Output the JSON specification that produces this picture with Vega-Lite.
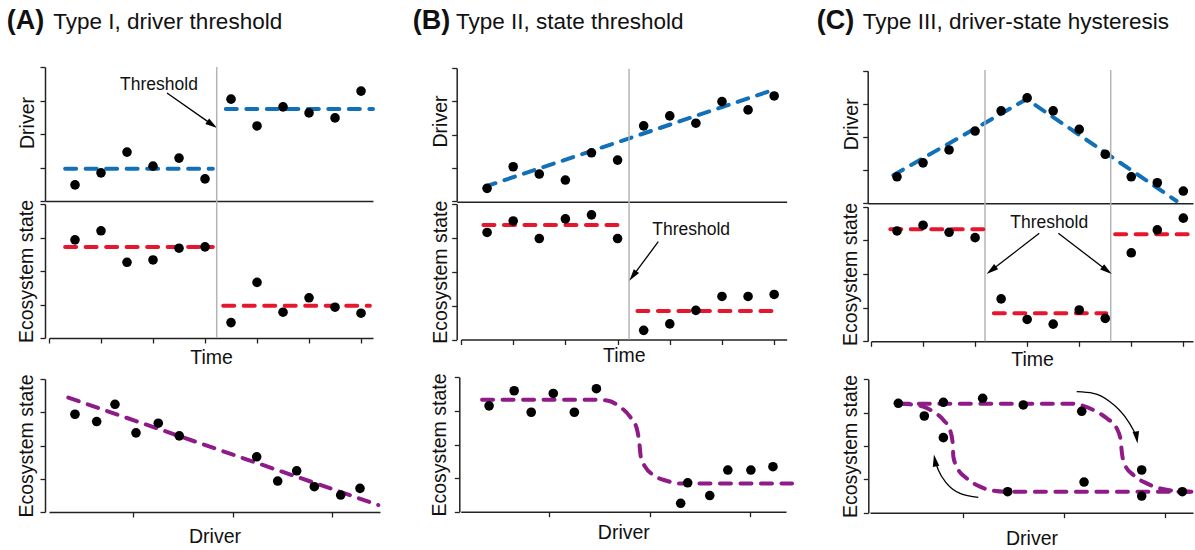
{
  "$schema": "https://vega.github.io/schema/vega-lite/v6.json",
  "width": 1195,
  "height": 550,
  "padding": 0,
  "autosize": {"type": "fit", "contains": "padding"},
  "config": {
    "view": {"stroke": null},
    "font": "Liberation Sans",
    "axis": {"grid": false, "labels": false, "domainColor": "#222", "domainWidth": 1.5, "tickColor": "#222", "tickWidth": 1.3, "tickSize": 5, "titleFont": "Liberation Sans", "titleFontSize": 19.5, "titleFontWeight": "normal", "titleColor": "#111"}
  },
  "resolve": {"scale": {"x": "independent", "y": "independent"}, "axis": {"x": "independent", "y": "independent"}},
  "layer": [
    {
      "encoding": {
        "x": {"field": "x", "type": "quantitative", "scale": {"domain": [-0.077, 6.23], "range": [45, 373], "nice": false, "zero": false}, "axis": {"orient": "bottom", "offset": -349, "ticks": false, "labels": false, "title": null}},
        "y": {"field": "y", "type": "quantitative", "scale": {"domain": [0, 4], "range": [201, 67], "nice": false, "zero": false}, "axis": {"orient": "left", "offset": -45, "values": [0, 1, 2, 3, 4], "title": "Driver", "titleX": -7.6, "titleY": 122.5}}
      },
      "layer": [
        {"data": {"values": [{"seg": 1, "x": 0.31, "y": 0.96}, {"seg": 1, "x": 3.15, "y": 0.96}, {"seg": 2, "x": 3.4, "y": 2.75}, {"seg": 2, "x": 6.23, "y": 2.75}]},
         "mark": {"type": "line", "color": "#1170b8", "strokeWidth": 4, "strokeDash": [11, 9.5], "strokeCap": "round"}, "encoding": {"detail": {"field": "seg", "type": "nominal"}}},
        {"data": {"values": [{"x": 0.5, "y": 0.48}, {"x": 1, "y": 0.84}, {"x": 1.5, "y": 1.46}, {"x": 2, "y": 1.04}, {"x": 2.5, "y": 1.28}, {"x": 3, "y": 0.66}, {"x": 3.5, "y": 3.04}, {"x": 4, "y": 2.24}, {"x": 4.5, "y": 2.81}, {"x": 5, "y": 2.63}, {"x": 5.5, "y": 2.48}, {"x": 6, "y": 3.28}]},
         "mark": {"type": "circle", "color": "#000", "size": 92, "opacity": 1}},
        {"data": {"values": [{"x": 2.269, "y": 3.224, "x2": 3.137, "y2": 2.28}]}, "mark": {"type": "rule", "color": "#000", "strokeWidth": 1.3}, "encoding": {"x2": {"field": "x2"}, "y2": {"field": "y2"}}},
        {"data": {"values": [{"x": 3.137, "y": 2.28}]}, "mark": {"type": "point", "shape": "M0,-1L0.55,1L-0.55,1Z", "filled": true, "color": "#000", "opacity": 1, "size": 144, "angle": 125, "strokeWidth": 0}},
        {"data": {"values": [{"x": 2.115, "y": 3.313, "label": "Threshold"}]}, "mark": {"type": "text", "fontSize": 17.5, "align": "center", "baseline": "alphabetic", "color": "#111"}, "encoding": {"text": {"field": "label"}}},
        {"data": {"values": [{"x": -0.813, "y": 5.149, "label": "(A)"}]}, "mark": {"type": "text", "fontSize": 27, "fontWeight": "bold", "align": "left", "baseline": "alphabetic", "color": "#111"}, "encoding": {"text": {"field": "label"}}},
        {"data": {"values": [{"x": 0.083, "y": 5.149, "label": "Type I, driver threshold"}]}, "mark": {"type": "text", "fontSize": 22.5, "align": "left", "baseline": "alphabetic", "color": "#111"}, "encoding": {"text": {"field": "label"}}}
      ]
    },
    {
      "encoding": {
        "x": {"field": "x", "type": "quantitative", "scale": {"domain": [0, 6.23], "range": [49, 373], "nice": false, "zero": false}, "axis": {"orient": "bottom", "offset": -212, "values": [0, 1, 2, 3, 4, 5, 6], "title": "Time", "titlePadding": 5}},
        "y": {"field": "y", "type": "quantitative", "scale": {"domain": [0, 4], "range": [338, 204], "nice": false, "zero": false}, "axis": {"orient": "left", "offset": -45, "values": [0, 1, 2, 3, 4], "title": "Ecosystem state", "titlePadding": 2.5}}
      },
      "layer": [
        {"data": {"values": [{"x": 3.225, "y": 0, "y2": 8.09}]}, "mark": {"type": "rule", "color": "#b5b5b5", "strokeWidth": 1.5}, "encoding": {"y2": {"field": "y2"}}},
        {"data": {"values": [{"seg": 1, "x": 0.31, "y": 2.72}, {"seg": 1, "x": 3.15, "y": 2.72}, {"seg": 2, "x": 3.35, "y": 0.96}, {"seg": 2, "x": 6.17, "y": 0.96}]},
         "mark": {"type": "line", "color": "#e5162d", "strokeWidth": 4, "strokeDash": [11, 9.5], "strokeCap": "round"}, "encoding": {"detail": {"field": "seg", "type": "nominal"}}},
        {"data": {"values": [{"x": 0.5, "y": 2.93}, {"x": 1, "y": 3.2}, {"x": 1.5, "y": 2.26}, {"x": 2, "y": 2.33}, {"x": 2.5, "y": 2.68}, {"x": 3, "y": 2.72}, {"x": 3.5, "y": 0.46}, {"x": 4, "y": 1.66}, {"x": 4.5, "y": 0.77}, {"x": 5, "y": 1.2}, {"x": 5.5, "y": 0.92}, {"x": 6, "y": 0.74}]},
         "mark": {"type": "circle", "color": "#000", "size": 92, "opacity": 1}}
      ]
    },
    {
      "encoding": {
        "x": {"field": "x", "type": "quantitative", "scale": {"domain": [0.156, 3.482], "range": [49, 380], "nice": false, "zero": false}, "axis": {"orient": "bottom", "offset": -38, "values": [1, 2, 3], "title": "Driver", "titlePadding": 10}},
        "y": {"field": "y", "type": "quantitative", "scale": {"domain": [0, 4], "range": [512, 379], "nice": false, "zero": false}, "axis": {"orient": "left", "offset": -45, "values": [0, 1, 2, 3, 4], "title": "Ecosystem state", "titlePadding": 2.5}}
      },
      "layer": [
        {"data": {"values": [{"x": 0.35, "y": 3.44}, {"x": 3.465, "y": 0.21}]},
         "mark": {"type": "line", "color": "#8e1b87", "strokeWidth": 4, "strokeDash": [11, 9.5], "strokeCap": "round"}},
        {"data": {"values": [{"x": 0.417, "y": 2.94}, {"x": 0.635, "y": 2.72}, {"x": 0.819, "y": 3.24}, {"x": 1.03, "y": 2.38}, {"x": 1.254, "y": 2.67}, {"x": 1.465, "y": 2.29}, {"x": 2.243, "y": 1.66}, {"x": 2.454, "y": 0.93}, {"x": 2.645, "y": 1.24}, {"x": 2.822, "y": 0.76}, {"x": 3.087, "y": 0.51}, {"x": 3.281, "y": 0.71}]},
         "mark": {"type": "circle", "color": "#000", "size": 92, "opacity": 1}}
      ]
    },
    {
      "encoding": {
        "x": {"field": "x", "type": "quantitative", "scale": {"domain": [-0.082, 6.24], "range": [456.7, 786.7], "nice": false, "zero": false}, "axis": {"orient": "bottom", "offset": -348.3, "ticks": false, "labels": false, "title": null}},
        "y": {"field": "y", "type": "quantitative", "scale": {"domain": [0, 4], "range": [201, 68], "nice": false, "zero": false}, "axis": {"orient": "left", "offset": -456.7, "values": [0, 1, 2, 3, 4], "title": "Driver", "titleX": -5.9, "titleY": 121}}
      },
      "layer": [
        {"data": {"values": [{"x": 0.46, "y": 0.43}, {"x": 6.02, "y": 3.36}]},
         "mark": {"type": "line", "color": "#1170b8", "strokeWidth": 4, "strokeDash": [11, 9.5], "strokeCap": "round"}},
        {"data": {"values": [{"x": 0.5, "y": 0.38}, {"x": 1, "y": 1.03}, {"x": 1.5, "y": 0.81}, {"x": 2, "y": 0.63}, {"x": 2.5, "y": 1.45}, {"x": 3, "y": 1.23}, {"x": 3.5, "y": 2.26}, {"x": 4, "y": 2.56}, {"x": 4.5, "y": 2.34}, {"x": 5, "y": 2.99}, {"x": 5.5, "y": 2.74}, {"x": 6, "y": 3.16}]},
         "mark": {"type": "circle", "color": "#000", "size": 92, "opacity": 1}},
        {"data": {"values": [{"x": -0.925, "y": 5.18, "label": "(B)"}]}, "mark": {"type": "text", "fontSize": 27, "fontWeight": "bold", "align": "left", "baseline": "alphabetic", "color": "#111"}, "encoding": {"text": {"field": "label"}}},
        {"data": {"values": [{"x": -0.096, "y": 5.18, "label": "Type II, state threshold"}]}, "mark": {"type": "text", "fontSize": 22.5, "align": "left", "baseline": "alphabetic", "color": "#111"}, "encoding": {"text": {"field": "label"}}}
      ]
    },
    {
      "encoding": {
        "x": {"field": "x", "type": "quantitative", "scale": {"domain": [0, 6.24], "range": [461, 786.7], "nice": false, "zero": false}, "axis": {"orient": "bottom", "offset": -210.5, "values": [0, 1, 2, 3, 4, 5, 6], "title": "Time", "titlePadding": 1}},
        "y": {"field": "y", "type": "quantitative", "scale": {"domain": [0, 4], "range": [339.5, 204], "nice": false, "zero": false}, "axis": {"orient": "left", "offset": -456.7, "values": [0, 1, 2, 3, 4], "title": "Ecosystem state", "titlePadding": 1}}
      },
      "layer": [
        {"data": {"values": [{"x": 3.22, "y": 0, "y2": 7.99}]}, "mark": {"type": "rule", "color": "#b5b5b5", "strokeWidth": 1.5}, "encoding": {"y2": {"field": "y2"}}},
        {"data": {"values": [{"seg": 1, "x": 0.43, "y": 3.38}, {"seg": 1, "x": 3.01, "y": 3.38}, {"seg": 2, "x": 3.38, "y": 0.84}, {"seg": 2, "x": 5.98, "y": 0.84}]},
         "mark": {"type": "line", "color": "#e5162d", "strokeWidth": 4, "strokeDash": [11, 9.5], "strokeCap": "round"}, "encoding": {"detail": {"field": "seg", "type": "nominal"}}},
        {"data": {"values": [{"x": 0.5, "y": 3.16}, {"x": 1, "y": 3.5}, {"x": 1.5, "y": 2.98}, {"x": 2, "y": 3.56}, {"x": 2.5, "y": 3.68}, {"x": 3, "y": 2.98}, {"x": 3.5, "y": 0.27}, {"x": 4, "y": 0.46}, {"x": 4.5, "y": 0.86}, {"x": 5, "y": 1.27}, {"x": 5.5, "y": 1.27}, {"x": 6, "y": 1.33}]},
         "mark": {"type": "circle", "color": "#000", "size": 92, "opacity": 1}},
        {"data": {"values": [{"x": 3.78, "y": 2.887, "x2": 3.293, "y2": 1.877}]}, "mark": {"type": "rule", "color": "#000", "strokeWidth": 1.3}, "encoding": {"x2": {"field": "x2"}, "y2": {"field": "y2"}}},
        {"data": {"values": [{"x": 3.293, "y": 1.877}]}, "mark": {"type": "point", "shape": "M0,-1L0.55,1L-0.55,1Z", "filled": true, "color": "#000", "opacity": 1, "size": 144, "angle": 216.7, "strokeWidth": 0}},
        {"data": {"values": [{"x": 4.41, "y": 3.085, "label": "Threshold"}]}, "mark": {"type": "text", "fontSize": 17.5, "align": "center", "baseline": "alphabetic", "color": "#111"}, "encoding": {"text": {"field": "label"}}}
      ]
    },
    {
      "encoding": {
        "x": {"field": "x", "type": "quantitative", "scale": {"domain": [0.117, 3.36], "range": [460.7, 786], "nice": false, "zero": false}, "axis": {"orient": "bottom", "offset": -38.3, "values": [1, 2, 3], "title": "Driver", "titlePadding": 6}},
        "y": {"field": "y", "type": "quantitative", "scale": {"domain": [0, 4], "range": [511.7, 377.3], "nice": false, "zero": false}, "axis": {"orient": "left", "offset": -459.3, "values": [0, 1, 2, 3, 4], "title": "Ecosystem state", "titlePadding": 4}}
      },
      "layer": [
        {"data": {"values": [{"x": 0.33, "y": 3.33}, {"x": 1.472, "y": 3.33}, {"x": 1.588, "y": 3.3}, {"x": 1.705, "y": 3.12}, {"x": 1.805, "y": 2.83}, {"x": 1.872, "y": 2.48}, {"x": 1.898, "y": 2.04}, {"x": 1.912, "y": 1.64}, {"x": 1.955, "y": 1.34}, {"x": 2.037, "y": 1.09}, {"x": 2.171, "y": 0.92}, {"x": 2.286, "y": 0.84}, {"x": 3.42, "y": 0.84}]},
         "mark": {"type": "line", "color": "#8e1b87", "strokeWidth": 4, "strokeDash": [11, 9.5], "strokeCap": "round", "interpolate": "monotone"}},
        {"data": {"values": [{"x": 0.4, "y": 3.15}, {"x": 0.65, "y": 3.6}, {"x": 0.82, "y": 2.96}, {"x": 1.04, "y": 3.52}, {"x": 1.25, "y": 2.96}, {"x": 1.47, "y": 3.66}, {"x": 2.31, "y": 0.25}, {"x": 2.38, "y": 0.86}, {"x": 2.6, "y": 0.48}, {"x": 2.78, "y": 1.24}, {"x": 3.01, "y": 1.24}, {"x": 3.23, "y": 1.34}]},
         "mark": {"type": "circle", "color": "#000", "size": 92, "opacity": 1}}
      ]
    },
    {
      "encoding": {
        "x": {"field": "x", "type": "quantitative", "scale": {"domain": [-0.063, 6.186], "range": [867.7, 1193], "nice": false, "zero": false}, "axis": {"orient": "bottom", "offset": -346.7, "ticks": false, "labels": false, "title": null}},
        "y": {"field": "y", "type": "quantitative", "scale": {"domain": [0, 4], "range": [203.3, 70.7], "nice": false, "zero": false}, "axis": {"orient": "left", "offset": -867.7, "values": [0, 1, 2, 3, 4], "title": "Driver", "titleX": -6.3, "titleY": 123.8}}
      },
      "layer": [
        {"data": {"values": [{"x": 0.43, "y": 0.85}, {"x": 2.99, "y": 3.14}, {"x": 5.87, "y": 0.07}]},
         "mark": {"type": "line", "color": "#1170b8", "strokeWidth": 4, "strokeDash": [11, 9.5], "strokeCap": "round"}},
        {"data": {"values": [{"x": 0.5, "y": 0.8}, {"x": 1, "y": 1.22}, {"x": 1.5, "y": 1.61}, {"x": 2, "y": 2.18}, {"x": 2.5, "y": 2.79}, {"x": 3, "y": 3.18}, {"x": 3.5, "y": 2.79}, {"x": 4, "y": 2.23}, {"x": 4.5, "y": 1.48}, {"x": 5, "y": 0.8}, {"x": 5.5, "y": 0.62}, {"x": 6, "y": 0.37}]},
         "mark": {"type": "circle", "color": "#000", "size": 92, "opacity": 1}},
        {"data": {"values": [{"x": -1.043, "y": 5.273, "label": "(C)"}]}, "mark": {"type": "text", "fontSize": 27, "fontWeight": "bold", "align": "left", "baseline": "alphabetic", "color": "#111"}, "encoding": {"text": {"field": "label"}}},
        {"data": {"values": [{"x": -0.159, "y": 5.273, "label": "Type III, driver-state hysteresis"}]}, "mark": {"type": "text", "fontSize": 22.5, "align": "left", "baseline": "alphabetic", "color": "#111"}, "encoding": {"text": {"field": "label"}}}
      ]
    },
    {
      "encoding": {
        "x": {"field": "x", "type": "quantitative", "scale": {"domain": [0, 6.186], "range": [871, 1193], "nice": false, "zero": false}, "axis": {"orient": "bottom", "offset": -208.7, "values": [0, 1, 2, 3, 4, 5, 6], "title": "Time", "titlePadding": 4}},
        "y": {"field": "y", "type": "quantitative", "scale": {"domain": [0, 4], "range": [341.3, 206.7], "nice": false, "zero": false}, "axis": {"orient": "left", "offset": -867.7, "values": [0, 1, 2, 3, 4], "title": "Ecosystem state", "titlePadding": 2}}
      },
      "layer": [
        {"data": {"values": [{"x": 2.19, "y": 0, "y2": 8.06}, {"x": 4.605, "y": 0, "y2": 8.06}]}, "mark": {"type": "rule", "color": "#b5b5b5", "strokeWidth": 1.5}, "encoding": {"y2": {"field": "y2"}}},
        {"data": {"values": [{"seg": 1, "x": 0.37, "y": 3.33}, {"seg": 1, "x": 2.19, "y": 3.33}, {"seg": 2, "x": 2.36, "y": 0.83}, {"seg": 2, "x": 4.52, "y": 0.83}, {"seg": 3, "x": 4.69, "y": 3.18}, {"seg": 3, "x": 6.13, "y": 3.18}]},
         "mark": {"type": "line", "color": "#e5162d", "strokeWidth": 4, "strokeDash": [11, 9.5], "strokeCap": "round"}, "encoding": {"detail": {"field": "seg", "type": "nominal"}}},
        {"data": {"values": [{"x": 0.5, "y": 3.28}, {"x": 1, "y": 3.45}, {"x": 1.5, "y": 3.24}, {"x": 2, "y": 3.08}, {"x": 2.5, "y": 1.26}, {"x": 3, "y": 0.65}, {"x": 3.5, "y": 0.51}, {"x": 4, "y": 0.93}, {"x": 4.5, "y": 0.68}, {"x": 5, "y": 2.63}, {"x": 5.5, "y": 3.31}, {"x": 6, "y": 3.66}]},
         "mark": {"type": "circle", "color": "#000", "size": 92, "opacity": 1}},
        {"data": {"values": [{"x": 3.233, "y": 3.21, "x2": 2.313, "y2": 2.11}, {"x": 3.599, "y": 3.21, "x2": 4.532, "y2": 2.107}]}, "mark": {"type": "rule", "color": "#000", "strokeWidth": 1.3}, "encoding": {"x2": {"field": "x2"}, "y2": {"field": "y2"}}},
        {"data": {"values": [{"x": 2.313, "y": 2.11}]}, "mark": {"type": "point", "shape": "M0,-1L0.55,1L-0.55,1Z", "filled": true, "color": "#000", "opacity": 1, "size": 144, "angle": 232.3, "strokeWidth": 0}},
        {"data": {"values": [{"x": 4.532, "y": 2.107}]}, "mark": {"type": "point", "shape": "M0,-1L0.55,1L-0.55,1Z", "filled": true, "color": "#000", "opacity": 1, "size": 144, "angle": 127.3, "strokeWidth": 0}},
        {"data": {"values": [{"x": 3.424, "y": 3.376, "label": "Threshold"}]}, "mark": {"type": "text", "fontSize": 17.5, "align": "center", "baseline": "alphabetic", "color": "#111"}, "encoding": {"text": {"field": "label"}}}
      ]
    },
    {
      "encoding": {
        "x": {"field": "x", "type": "quantitative", "scale": {"domain": [0.074, 3.279], "range": [870, 1193], "nice": false, "zero": false}, "axis": {"orient": "bottom", "offset": -37.3, "values": [1, 2, 3], "title": "Driver", "titlePadding": 11.5}},
        "y": {"field": "y", "type": "quantitative", "scale": {"domain": [0, 4], "range": [512.7, 379.3], "nice": false, "zero": false}, "axis": {"orient": "left", "offset": -868.3, "values": [0, 1, 2, 3, 4], "title": "Ecosystem state", "titlePadding": 2.5}}
      },
      "layer": [
        {"data": {"values": [{"x": 0.355, "y": 3.27}, {"x": 2.058, "y": 3.27}, {"x": 2.158, "y": 3.23}, {"x": 2.29, "y": 3.08}, {"x": 2.423, "y": 2.83}, {"x": 2.522, "y": 2.53}, {"x": 2.561, "y": 2.18}, {"x": 2.574, "y": 1.78}, {"x": 2.604, "y": 1.43}, {"x": 2.687, "y": 1.13}, {"x": 2.819, "y": 0.88}, {"x": 2.951, "y": 0.73}, {"x": 3.083, "y": 0.66}, {"x": 3.27, "y": 0.63}]},
         "mark": {"type": "line", "color": "#8e1b87", "strokeWidth": 4, "strokeDash": [11, 9.5], "strokeCap": "round", "interpolate": "monotone"}},
        {"data": {"values": [{"x": 0.372, "y": 3.27}, {"x": 0.471, "y": 3.25}, {"x": 0.603, "y": 3.18}, {"x": 0.702, "y": 3.03}, {"x": 0.802, "y": 2.78}, {"x": 0.868, "y": 2.48}, {"x": 0.895, "y": 2.08}, {"x": 0.901, "y": 1.68}, {"x": 0.935, "y": 1.38}, {"x": 1.034, "y": 1.03}, {"x": 1.166, "y": 0.78}, {"x": 1.298, "y": 0.66}, {"x": 1.431, "y": 0.63}, {"x": 3.27, "y": 0.63}]},
         "mark": {"type": "line", "color": "#8e1b87", "strokeWidth": 4, "strokeDash": [11, 9.5], "strokeCap": "round", "interpolate": "monotone"}},
        {"data": {"values": [{"x": 0.355, "y": 3.28}, {"x": 0.613, "y": 2.9}, {"x": 0.802, "y": 3.31}, {"x": 0.802, "y": 2.25}, {"x": 1.192, "y": 3.43}, {"x": 1.44, "y": 0.63}, {"x": 1.595, "y": 3.23}, {"x": 2.175, "y": 3.04}, {"x": 2.198, "y": 0.92}, {"x": 2.77, "y": 1.28}, {"x": 2.77, "y": 0.5}, {"x": 3.173, "y": 0.63}]},
         "mark": {"type": "circle", "color": "#000", "size": 92, "opacity": 1}},
        {"data": {"values": [{"x": 2.125, "y": 3.628}, {"x": 2.29, "y": 3.58}, {"x": 2.455, "y": 3.33}, {"x": 2.604, "y": 2.88}, {"x": 2.687, "y": 2.48}, {"x": 2.72, "y": 2.255}]},
         "mark": {"type": "line", "color": "#000", "strokeWidth": 1.3, "interpolate": "monotone"}},
        {"data": {"values": [{"x": 0.719, "y": 1.565}, {"x": 0.752, "y": 1.28}, {"x": 0.835, "y": 0.88}, {"x": 0.967, "y": 0.58}, {"x": 1.149, "y": 0.46}]},
         "mark": {"type": "line", "color": "#000", "strokeWidth": 1.3, "interpolate": "monotone"}},
        {"data": {"values": [{"x": 2.72, "y": 2.255}]}, "mark": {"type": "point", "shape": "M0,-1L0.55,1L-0.55,1Z", "filled": true, "color": "#000", "opacity": 1, "size": 144, "angle": 172, "strokeWidth": 0}},
        {"data": {"values": [{"x": 0.719, "y": 1.565}]}, "mark": {"type": "point", "shape": "M0,-1L0.55,1L-0.55,1Z", "filled": true, "color": "#000", "opacity": 1, "size": 144, "angle": 350, "strokeWidth": 0}}
      ]
    }
  ]
}
